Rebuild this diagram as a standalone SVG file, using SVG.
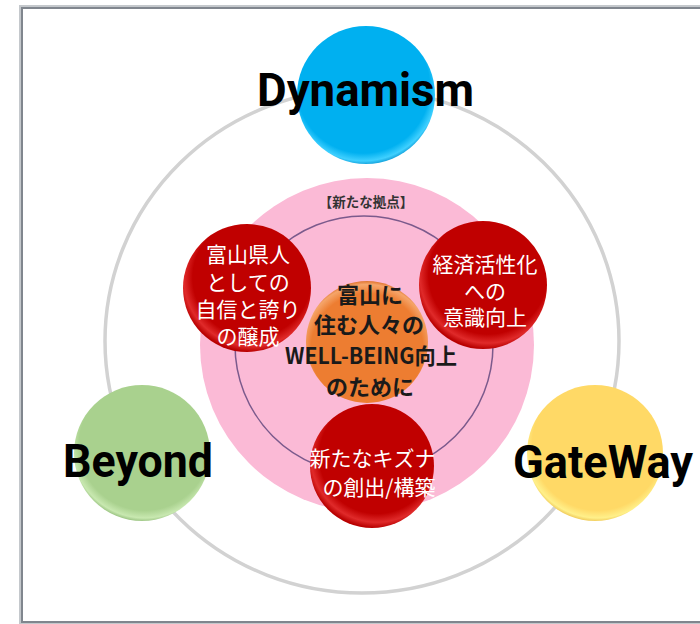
<svg xmlns="http://www.w3.org/2000/svg" width="700" height="624" viewBox="0 0 700 624">
<defs>
<radialGradient id="gBlue" cx="48%" cy="44%" r="56%"><stop offset="0" stop-color="#00b0f0"/><stop offset="0.86" stop-color="#00b0f0"/><stop offset="0.96" stop-color="#3fd0ff"/><stop offset="1" stop-color="#1aa8e0"/></radialGradient>
<radialGradient id="gGreen" cx="52%" cy="44%" r="56%"><stop offset="0" stop-color="#a9d18e"/><stop offset="0.86" stop-color="#a9d18e"/><stop offset="0.96" stop-color="#c8e8b0"/><stop offset="1" stop-color="#a0c888"/></radialGradient>
<radialGradient id="gYellow" cx="52%" cy="44%" r="56%"><stop offset="0" stop-color="#ffd966"/><stop offset="0.86" stop-color="#ffd966"/><stop offset="0.96" stop-color="#fff08a"/><stop offset="1" stop-color="#f2cf60"/></radialGradient>
<radialGradient id="gRed" cx="54%" cy="42%" r="58%"><stop offset="0" stop-color="#c00000"/><stop offset="0.8" stop-color="#c00000"/><stop offset="0.92" stop-color="#e02a2a"/><stop offset="1" stop-color="#b80000"/></radialGradient>
<radialGradient id="gOrange" cx="50%" cy="56%" r="56%"><stop offset="0" stop-color="#ed7d31"/><stop offset="0.82" stop-color="#ed7d31"/><stop offset="0.95" stop-color="#f5a56a"/><stop offset="1" stop-color="#e07530"/></radialGradient>
<style>
.big{font-family:Roboto,"Liberation Sans",sans-serif;font-weight:bold;font-size:46px;fill:#000;text-anchor:middle}
.wt{font-family:"Noto Sans CJK JP","Liberation Sans",sans-serif;font-size:21px;fill:#fff;text-anchor:middle}
.ct{font-family:"Noto Sans CJK JP","Liberation Sans",sans-serif;font-weight:bold;font-size:22px;fill:#1a1a1a;text-anchor:middle}
.ttl{font-family:"Noto Sans CJK JP","Liberation Sans",sans-serif;font-weight:bold;font-size:13.5px;fill:#333;text-anchor:middle}
</style>
</defs>
<rect width="700" height="624" fill="#fff"/>
<g id="frame" fill="none">
<rect x="20" y="6" width="720" height="617" stroke="#c4c8cc" stroke-width="2"/>
<rect x="22" y="8" width="720" height="614" stroke="#80868e" stroke-width="2"/>
</g>
<g id="connectors" fill="none">
<ellipse cx="362" cy="341" rx="257" ry="252" stroke="#d2d2d2" stroke-width="3.5"/>
</g>
<g id="base">
<circle cx="367" cy="345" r="167" fill="#fbbad6"/>
<circle cx="364" cy="345" r="129" fill="none" stroke="#7b5a8c" stroke-width="1.5"/>
<text class="ttl" x="366" y="207">【新たな拠点】</text>
</g>
<g id="dynamism">
<circle cx="366" cy="95" r="69" fill="url(#gBlue)"/>
<text class="big" x="365.5" y="106" textLength="217" lengthAdjust="spacingAndGlyphs">Dynamism</text>
</g>
<g id="beyond">
<circle cx="142" cy="453" r="68" fill="url(#gGreen)"/>
<text class="big" x="138" y="477" textLength="150" lengthAdjust="spacingAndGlyphs">Beyond</text>
</g>
<g id="gateway">
<circle cx="595" cy="453" r="68" fill="url(#gYellow)"/>
<text class="big" x="603" y="478" textLength="180" lengthAdjust="spacingAndGlyphs">GateWay</text>
</g>
<g id="center">
<circle cx="367" cy="342" r="61" fill="url(#gOrange)"/>
<text class="ct" x="370" y="303">富山に</text>
<text class="ct" x="369" y="333">住む人々の</text>
<text class="ct" x="371" y="364" textLength="172" lengthAdjust="spacingAndGlyphs">WELL-BEING向上</text>
<text class="ct" x="370" y="395">のために</text>
</g>
<g id="pride">
<circle cx="247" cy="288" r="64" fill="url(#gRed)"/>
<text class="wt" x="248" y="262">富山県人</text>
<text class="wt" x="248" y="290">としての</text>
<text class="wt" x="248" y="317">自信と誇り</text>
<text class="wt" x="248" y="344">の醸成</text>
</g>
<g id="economy">
<circle cx="483" cy="285" r="64" fill="url(#gRed)"/>
<text class="wt" x="485" y="272">経済活性化</text>
<text class="wt" x="485" y="299">への</text>
<text class="wt" x="485" y="325">意識向上</text>
</g>
<g id="bonds">
<circle cx="372" cy="466" r="62" fill="url(#gRed)"/>
<text class="wt" x="372.5" y="466">新たなキズナ</text>
<text class="wt" x="379" y="495">の創出/構築</text>
</g>
</svg>
